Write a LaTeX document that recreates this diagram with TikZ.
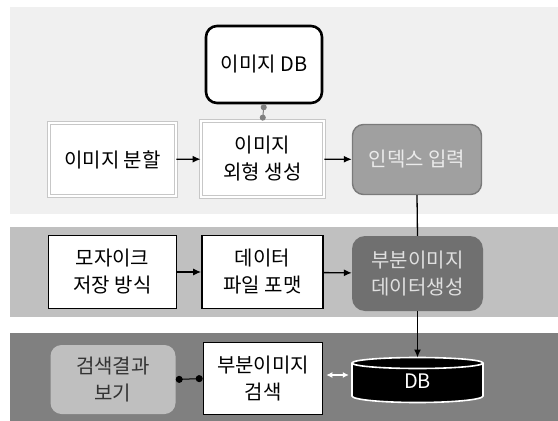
\documentclass[tikz,border=0pt]{standalone}
\usepackage{fontspec}
\setmainfont{Noto Sans CJK KR}
\usetikzlibrary{arrows.meta}
\definecolor{bandA}{HTML}{F0F0F0}
\definecolor{bandB}{HTML}{C0C0C0}
\definecolor{bandC}{HTML}{808080}
\definecolor{idxfill}{HTML}{A0A0A0}
\definecolor{idxdraw}{HTML}{7A7A7A}
\definecolor{genfill}{HTML}{707070}
\definecolor{resfill}{HTML}{BFBFBF}
\begin{document}
\begin{tikzpicture}[x=1pt,y=-1pt,
  every node/.style={font=\fontsize{20}{27}\selectfont, align=center, inner sep=0pt},
  dblbox/.style={draw=black!22, double=white, double distance=2pt, line width=0.8pt, fill=white},
  blkbox/.style={draw=black, line width=1.6pt, fill=white},
  arr/.style={line width=1.3pt, -{Latex[length=8pt,width=7pt]}},
  plain/.style={line width=1.3pt}
]
\useasboundingbox (0,0) rectangle (558,421);
\fill[white] (0,0) rectangle (558,421);
% bands
\fill[bandA] (10,7) rectangle (558,214);
\fill[bandB] (10,227) rectangle (558,317);
\fill[bandC] (10,333) rectangle (558,421);

% top band
\node[draw=black, line width=2.6pt, rounded corners=11pt, fill=white,
      minimum width=116pt, minimum height=77pt] (imgdb) at (264,64.5) {이미지 DB};
\node[dblbox, minimum width=127pt, minimum height=73pt] (split) at (112.5,159.5) {이미지 분할};
\node[dblbox, minimum width=123pt, minimum height=76pt] (outer) at (262.5,159) {이미지\\외형 생성};
\node[draw=idxdraw, line width=1.4pt, fill=idxfill, rounded corners=11pt, text=black!8,
      minimum width=129pt, minimum height=70pt] (index) at (417,159.5) {인덱스 입력};

% second band
\node[blkbox, minimum width=128pt, minimum height=73pt] (mosaic) at (112.5,272) {모자이크\\저장 방식};
\node[blkbox, minimum width=121pt, minimum height=73pt] (format) at (262.5,272) {데이터\\파일 포맷};
\node[fill=genfill, rounded corners=13pt, text=black!12,
      minimum width=131pt, minimum height=75pt] (subgen) at (417.5,273.5) {부분이미지\\데이터생성};

% third band
\node[fill=resfill, rounded corners=11pt, text=black!80,
      minimum width=125pt, minimum height=69pt] (result) at (113,379.5) {검색결과\\보기};
\node[blkbox, minimum width=119pt, minimum height=72pt] (search) at (263,378.5) {부분이미지\\검색};
% DB cylinder drawn manually
\fill[black] (352,363) -- (352,396) arc[start angle=180, end angle=360, x radius=65.5pt, y radius=6.5pt]
  -- (483,363) arc[start angle=0, end angle=180, x radius=65.5pt, y radius=5.5pt] -- cycle;
\draw[white, line width=1.6pt] (352,363) -- (352,396) arc[start angle=180, end angle=360, x radius=65.5pt, y radius=6.5pt]
  -- (483,363);
\draw[white, line width=1.6pt] (417.5,363) ellipse[x radius=65.5pt, y radius=5.5pt];
\node[text=white, minimum width=131pt, minimum height=44pt] (db) at (417.5,381) {\raisebox{-5pt}{DB}};
\coordinate (dbtop) at (417.5,357.5);

% connectors
\draw[black!50, line width=1pt, {Circle[length=6pt]}-{Circle[length=6pt]}] (imgdb.south) -- (outer.north);
\draw[arr] (split) -- (outer);
\draw[arr] (outer) -- (index);
\draw[plain] (index.south) -- (subgen.north);
\draw[arr] (mosaic) -- (format);
\draw[arr] (format) -- (subgen);
\draw[arr] (subgen.south) -- (dbtop);
\draw[black, line width=1pt, {Circle[length=7pt]}-{Circle[length=7pt]}] (result.east) -- (search.west);
\coordinate (sa) at ([xshift=3pt,yshift=3.5pt]search.east);
\coordinate (sb) at ([xshift=-3pt]db.west |- sa);
\draw[white, line width=1.5pt, {Latex[length=6pt,width=6pt]}-{Latex[length=6pt,width=6pt]}] (sa) -- (sb);
\end{tikzpicture}
\end{document}
